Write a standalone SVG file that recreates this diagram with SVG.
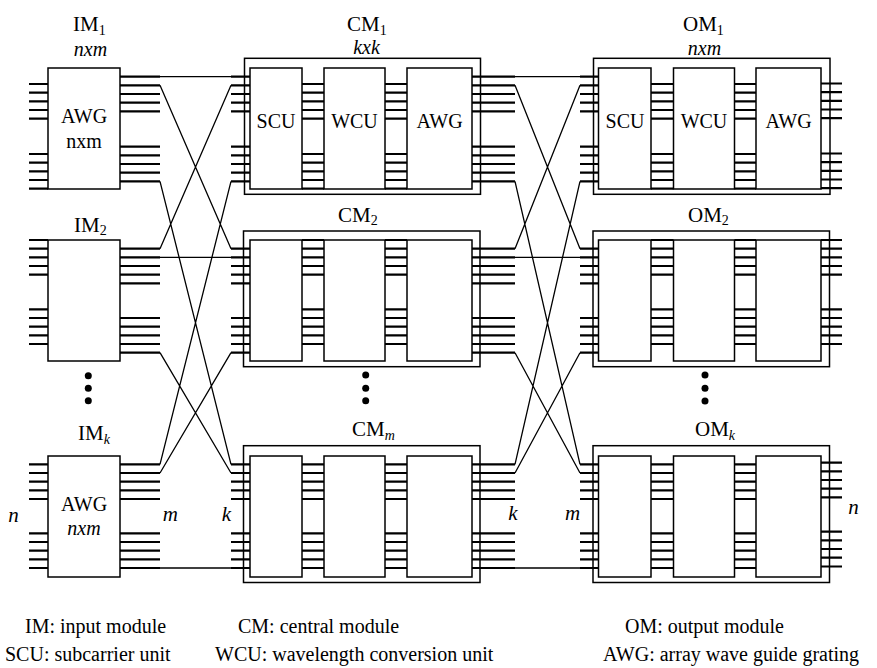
<svg xmlns="http://www.w3.org/2000/svg" width="877" height="668" viewBox="0 0 877 668" font-family="'Liberation Serif', 'DejaVu Serif', serif">
<style>
text{font-family:'Liberation Serif','DejaVu Serif',serif;fill:#000}
.lbl{font-size:21px}
.in{font-size:20px;text-anchor:middle}
.it{font-style:italic}
.leg{font-size:20px}
.box{fill:#fff;stroke:#000;stroke-width:1.5}
.outer{fill:none;stroke:#000;stroke-width:1.5}
.stub{fill:none;stroke:#000;stroke-width:2.2}
.con{fill:none;stroke:#000;stroke-width:1.3}
.sub{font-size:14px}
.dim{font-size:20px;font-style:italic;text-anchor:middle}
</style>

<g id="connectors" class="con">
<path d="M160 76.7H231M160 85.3L231 248.7M160 181.3L231 464.3M160 248.7L231 85.3M160 257.3H231M160 352.7L231 473M160 464.3L231 181.3M160 473L231 352.7M160 568H231"/>
<path d="M515 76.7H580M515 85.3L580 248.7M515 181.3L580 464.3M515 248.7L580 85.3M515 257.3H580M515 352.7L580 473M515 464.3L580 181.3M515 473L580 352.7M515 568H580"/>
</g>

<!-- Row 1 -->
<g id="IM1">
<rect class="box" x="48" y="68" width="72" height="121"/>
<path class="stub" d="M29 84H48M29 92.7H48M29 101.3H48M29 110H48M29 118.7H48M29 154H48M29 162.7H48M29 171.3H48M29 180H48M29 188.7H48"/>
<path class="stub" d="M120 76.7H160M120 85.3H160M120 94H160M120 102.7H160M120 111.3H160M120 146.7H160M120 155.3H160M120 164H160M120 172.7H160M120 181.3H160"/>
<text class="lbl" x="73" y="31">IM<tspan class="sub" dy="3.5">1</tspan></text>
<text class="dim" x="90.5" y="55.5">nxm</text>
<text class="in" x="84" y="123">AWG</text>
<text class="in" x="84" y="148">nxm</text>
</g>

<g id="CM1">
<rect class="outer" x="244.5" y="58.3" width="236" height="136"/>
<rect class="box" x="250" y="68" width="52" height="121"/>
<rect class="box" x="324" y="68" width="61" height="121"/>
<rect class="box" x="407" y="68" width="65" height="121"/>
<path class="stub" d="M231 76.7H250M231 85.3H250M231 94H250M231 102.7H250M231 111.3H250M231 146.7H250M231 155.3H250M231 164H250M231 172.7H250M231 181.3H250"/>
<path class="stub" d="M302 84H324M302 92.7H324M302 101.3H324M302 110H324M302 118.7H324M302 154H324M302 162.7H324M302 171.3H324M302 180H324M302 188.7H324"/>
<path class="stub" d="M385 84H407M385 92.7H407M385 101.3H407M385 110H407M385 118.7H407M385 154H407M385 162.7H407M385 171.3H407M385 180H407M385 188.7H407"/>
<path class="stub" d="M472 76.7H515M472 85.3H515M472 94H515M472 102.7H515M472 111.3H515M472 146.7H515M472 155.3H515M472 164H515M472 172.7H515M472 181.3H515"/>
<text class="lbl" x="347" y="31">CM<tspan class="sub" dy="3.5">1</tspan></text>
<text class="dim" x="366.5" y="54">kxk</text>
<text class="in" x="276" y="128">SCU</text>
<text class="in" x="354.5" y="128">WCU</text>
<text class="in" x="439.5" y="128">AWG</text>
</g>

<g id="OM1">
<rect class="outer" x="593.5" y="58.3" width="236.5" height="136"/>
<rect class="box" x="598.5" y="68" width="52.5" height="121"/>
<rect class="box" x="673.5" y="68" width="61" height="121"/>
<rect class="box" x="756" y="68" width="65" height="121"/>
<path class="stub" d="M580 76.7H598.5M580 85.3H598.5M580 94H598.5M580 102.7H598.5M580 111.3H598.5M580 146.7H598.5M580 155.3H598.5M580 164H598.5M580 172.7H598.5M580 181.3H598.5"/>
<path class="stub" d="M651 84H673.5M651 92.7H673.5M651 101.3H673.5M651 110H673.5M651 118.7H673.5M651 154H673.5M651 162.7H673.5M651 171.3H673.5M651 180H673.5M651 188.7H673.5"/>
<path class="stub" d="M734.5 84H756M734.5 92.7H756M734.5 101.3H756M734.5 110H756M734.5 118.7H756M734.5 154H756M734.5 162.7H756M734.5 171.3H756M734.5 180H756M734.5 188.7H756"/>
<path class="stub" d="M821 83.5H842M821 92.2H842M821 100.8H842M821 109.5H842M821 118.2H842M821 153.5H842M821 162.2H842M821 170.8H842M821 179.5H842M821 188.2H842"/>
<text class="lbl" x="683" y="31">OM<tspan class="sub" dy="3.5">1</tspan></text>
<text class="dim" x="704.5" y="55">nxm</text>
<text class="in" x="625" y="128">SCU</text>
<text class="in" x="704" y="128">WCU</text>
<text class="in" x="788.5" y="128">AWG</text>
</g>

<!-- Row 2 -->
<g id="IM2">
<rect class="box" x="48" y="240" width="72" height="121"/>
<path class="stub" d="M29 240H48M29 248.7H48M29 257.3H48M29 266H48M29 274.7H48M29 309.3H48M29 318H48M29 326.7H48M29 335.3H48M29 344H48"/>
<path class="stub" d="M120 248.7H160M120 257.3H160M120 266H160M120 274.7H160M120 283.3H160M120 318H160M120 326.7H160M120 335.3H160M120 344H160M120 352.7H160"/>
<text class="lbl" x="74" y="231.5">IM<tspan class="sub" dy="3.5">2</tspan></text>
</g>

<g id="CM2">
<rect class="outer" x="243.5" y="231" width="236.5" height="135.7"/>
<rect class="box" x="250" y="240" width="52" height="121"/>
<rect class="box" x="324" y="240" width="61" height="121"/>
<rect class="box" x="407" y="240" width="65" height="121"/>
<path class="stub" d="M231 248.7H250M231 257.3H250M231 266H250M231 274.7H250M231 283.3H250M231 318H250M231 326.7H250M231 335.3H250M231 344H250M231 352.7H250"/>
<path class="stub" d="M302 240H324M302 248.7H324M302 257.3H324M302 266H324M302 274.7H324M302 309.3H324M302 318H324M302 326.7H324M302 335.3H324M302 344H324"/>
<path class="stub" d="M385 240H407M385 248.7H407M385 257.3H407M385 266H407M385 274.7H407M385 309.3H407M385 318H407M385 326.7H407M385 335.3H407M385 344H407"/>
<path class="stub" d="M472 248.7H515M472 257.3H515M472 266H515M472 274.7H515M472 283.3H515M472 318H515M472 326.7H515M472 335.3H515M472 344H515M472 352.7H515"/>
<text class="lbl" x="338" y="221.5">CM<tspan class="sub" dy="3.5">2</tspan></text>
</g>

<g id="OM2">
<rect class="outer" x="593" y="231" width="236.5" height="135.7"/>
<rect class="box" x="598.5" y="240" width="52.5" height="121"/>
<rect class="box" x="673.5" y="240" width="61" height="121"/>
<rect class="box" x="756" y="240" width="65" height="121"/>
<path class="stub" d="M580 248.7H598.5M580 257.3H598.5M580 266H598.5M580 274.7H598.5M580 283.3H598.5M580 318H598.5M580 326.7H598.5M580 335.3H598.5M580 344H598.5M580 352.7H598.5"/>
<path class="stub" d="M651 240H673.5M651 248.7H673.5M651 257.3H673.5M651 266H673.5M651 274.7H673.5M651 309.3H673.5M651 318H673.5M651 326.7H673.5M651 335.3H673.5M651 344H673.5"/>
<path class="stub" d="M734.5 240H756M734.5 248.7H756M734.5 257.3H756M734.5 266H756M734.5 274.7H756M734.5 309.3H756M734.5 318H756M734.5 326.7H756M734.5 335.3H756M734.5 344H756"/>
<path class="stub" d="M821 240H842M821 248.7H842M821 257.3H842M821 266H842M821 274.7H842M821 309.3H842M821 318H842M821 326.7H842M821 335.3H842M821 344H842"/>
<text class="lbl" x="688" y="221.5">OM<tspan class="sub" dy="3.5">2</tspan></text>
</g>

<g id="dots">
<circle cx="88.3" cy="375.7" r="3.5"/><circle cx="88.3" cy="388.3" r="3.5"/><circle cx="88.3" cy="400.7" r="3.5"/>
<circle cx="365.7" cy="375" r="3.5"/><circle cx="365.7" cy="388.3" r="3.5"/><circle cx="365.7" cy="400.7" r="3.5"/>
<circle cx="705" cy="375" r="3.5"/><circle cx="705" cy="388.3" r="3.5"/><circle cx="705" cy="401" r="3.5"/>
</g>

<!-- Row 3 -->
<g id="IMk">
<rect class="box" x="48" y="456" width="72" height="121"/>
<path class="stub" d="M29 464.3H48M29 473H48M29 481.7H48M29 490.3H48M29 499H48M29 533.3H48M29 542H48M29 550.7H48M29 559.3H48M29 568H48"/>
<path class="stub" d="M120 464.3H160M120 473H160M120 481.7H160M120 490.3H160M120 499H160M120 533.3H160M120 542H160M120 550.7H160M120 559.3H160M120 568H160"/>
<text class="lbl" x="78" y="440">IM<tspan class="sub it" dy="3.5">k</tspan></text>
<text class="in" x="84" y="511">AWG</text>
<text class="in it" x="84" y="535">nxm</text>
</g>

<g id="CMm">
<rect class="outer" x="243.5" y="445.7" width="236.5" height="136.8"/>
<rect class="box" x="250" y="456" width="52" height="121"/>
<rect class="box" x="324" y="456" width="61" height="121"/>
<rect class="box" x="407" y="456" width="65" height="121"/>
<path class="stub" d="M231 464.3H250M231 473H250M231 481.7H250M231 490.3H250M231 499H250M231 533.3H250M231 542H250M231 550.7H250M231 559.3H250M231 568H250"/>
<path class="stub" d="M302 464.3H324M302 473H324M302 481.7H324M302 490.3H324M302 499H324M302 533.3H324M302 542H324M302 550.7H324M302 559.3H324M302 568H324"/>
<path class="stub" d="M385 464.3H407M385 473H407M385 481.7H407M385 490.3H407M385 499H407M385 533.3H407M385 542H407M385 550.7H407M385 559.3H407M385 568H407"/>
<path class="stub" d="M472 464.3H515M472 473H515M472 481.7H515M472 490.3H515M472 499H515M472 533.3H515M472 542H515M472 550.7H515M472 559.3H515M472 568H515"/>
<text class="lbl" x="352" y="436">CM<tspan class="sub it" dy="3.5">m</tspan></text>
</g>

<g id="OMk">
<rect class="outer" x="593" y="445.7" width="236.5" height="136.8"/>
<rect class="box" x="598.5" y="456" width="52.5" height="121"/>
<rect class="box" x="673.5" y="456" width="61" height="121"/>
<rect class="box" x="756" y="456" width="65" height="121"/>
<path class="stub" d="M580 464.3H598.5M580 473H598.5M580 481.7H598.5M580 490.3H598.5M580 499H598.5M580 533.3H598.5M580 542H598.5M580 550.7H598.5M580 559.3H598.5M580 568H598.5"/>
<path class="stub" d="M651 464.3H673.5M651 473H673.5M651 481.7H673.5M651 490.3H673.5M651 499H673.5M651 533.3H673.5M651 542H673.5M651 550.7H673.5M651 559.3H673.5M651 568H673.5"/>
<path class="stub" d="M734.5 464.3H756M734.5 473H756M734.5 481.7H756M734.5 490.3H756M734.5 499H756M734.5 533.3H756M734.5 542H756M734.5 550.7H756M734.5 559.3H756M734.5 568H756"/>
<path class="stub" d="M821 462.7H842M821 471.3H842M821 480H842M821 488.7H842M821 497.3H842M821 531.7H842M821 540.3H842M821 549H842M821 557.7H842M821 566.5H842"/>
<text class="lbl" x="695" y="436">OM<tspan class="sub it" dy="3.5">k</tspan></text>
</g>

<g id="dimension-labels" class="lbl it">
<text x="8.3" y="521.5">n</text>
<text x="162.7" y="521">m</text>
<text x="221.7" y="521">k</text>
<text x="508.3" y="520">k</text>
<text x="565" y="520">m</text>
<text x="848.3" y="514">n</text>
</g>

<g id="legend" class="leg">
<text x="25" y="633">IM: input module</text>
<text x="238" y="633">CM: central module</text>
<text x="625" y="633">OM: output module</text>
<text x="5" y="661">SCU: subcarrier unit</text>
<text x="215" y="661">WCU: wavelength conversion unit</text>
<text x="603" y="661">AWG: array wave guide grating</text>
</g>
</svg>
